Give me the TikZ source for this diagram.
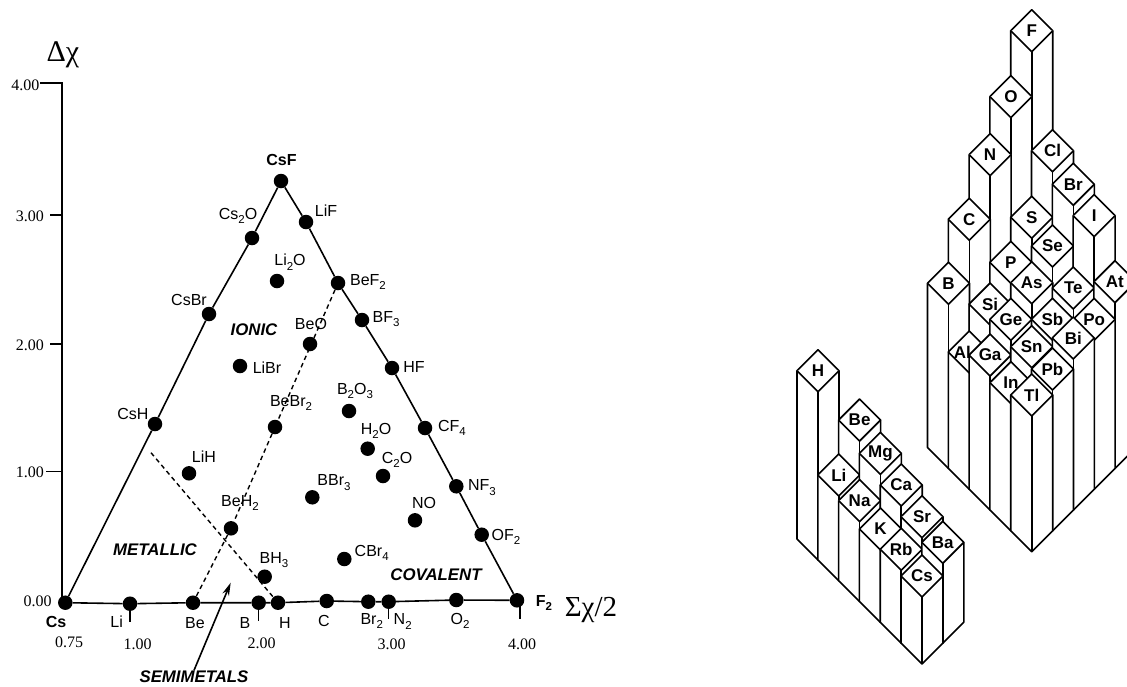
\documentclass[tikz,border=0pt]{standalone}
\usepackage{fontspec}
\setmainfont{Liberation Sans}
\newfontfamily\tnr{Liberation Serif}
\usetikzlibrary{arrows.meta}
\newcommand{\lsub}[1]{\raisebox{-0.28em}{\fontsize{11.5}{11.5}\selectfont #1}}
\tikzset{
  dot/.style={circle,fill=black,draw=none,minimum size=14.5pt,inner sep=0pt},
  frameline/.style={draw=black,line width=1.6pt},
  dashline/.style={draw=black,line width=1.4pt,dash pattern=on 4.5pt off 3.5pt},
  lab/.style={inner sep=0pt,font=\fontsize{16}{16}\selectfont},
  blab/.style={inner sep=0pt,font=\fontsize{16}{16}\selectfont\bfseries},
  region/.style={inner sep=0pt,font=\fontsize{16.8}{17}\selectfont\bfseries\itshape},
  num/.style={inner sep=0pt,font=\fontsize{16}{16}\selectfont\tnr},
  bigtwo/.style={inner sep=0pt,font=\fontsize{30}{30}\selectfont\tnr},
  bigsum/.style={inner sep=0pt,font=\fontsize{29}{29}\selectfont\tnr},
  pillarline/.style={draw=black,fill=white,line width=1.6pt,line join=round},
  celllab/.style={inner sep=0pt,font=\fontsize{17}{17}\selectfont\bfseries},
}
% [label shift]{x of front pillar}{base y of front pillar}{steps right}{steps back}{top y}{label}
\newcommand{\pillar}[7][0]{%
  \pgfmathsetmacro\px{#2+20.8*(#4-#5)}%
  \pgfmathsetmacro\pb{#3-20.8*(#4+#5)}%
  \draw[pillarline] (\px-21,#6) -- (\px-21,\pb-21) -- (\px,\pb) -- (\px+21,\pb-21) -- (\px+21,#6) -- (\px,#6-21) -- cycle;
  \draw[pillarline] (\px-21,#6) -- (\px,#6+21) -- (\px+21,#6);
  \draw[pillarline] (\px,#6+21) -- (\px,\pb);
  \node[celllab] (cell-#7) at (\px+#1,#6) {#7};
}
\newcommand{\rightblock}[5][0]{\pillar[#1]{1031.7}{551.7}{#2}{#3}{#4}{#5}}
\newcommand{\leftblock}[5][0]{\pillar[#1]{922}{664}{#2}{#3}{#4}{#5}}
\begin{document}
\begin{tikzpicture}[x=1pt,y=-1pt]
\clip (0,0) rectangle (1127,686);
\fill[white] (0,0) rectangle (1127,686);

% dots
\node[dot] (CsF) at (281,181) {};
\node[dot] (Cs2O) at (252,238) {};
\node[dot] (LiF) at (306,222) {};
\node[dot] (CsBr) at (209,314) {};
\node[dot] (BeF2) at (338,283) {};
\node[dot] (BF3) at (362,320) {};
\node[dot] (HF) at (392,368) {};
\node[dot] (CF4) at (425,428) {};
\node[dot] (NF3) at (456.3,486.3) {};
\node[dot] (OF2) at (481.7,534.7) {};
\node[dot] (F2) at (517,600.3) {};
\node[dot] (CsH) at (155,424) {};
\node[dot] (Cs) at (65.3,602.7) {};
\node[dot] (Li) at (130,603.7) {};
\node[dot] (Be) at (193,602.7) {};
\node[dot] (B) at (258.7,602.7) {};
\node[dot] (H) at (278,602.7) {};
\node[dot] (C) at (326.7,601) {};
\node[dot] (Br2) at (368.3,601.7) {};
\node[dot] (N2) at (388.7,601.7) {};
\node[dot] (O2) at (456.3,600) {};
\node[dot] (Li2O) at (277,281) {};
\node[dot] (BeO) at (310,344) {};
\node[dot] (LiBr) at (240,366) {};
\node[dot] (BeBr2) at (275,427) {};
\node[dot] (B2O3) at (349,411) {};
\node[dot] (H2O) at (367.7,448.7) {};
\node[dot] (C2O) at (383,476) {};
\node[dot] (NO) at (415,520.3) {};
\node[dot] (BBr3) at (312.3,497.3) {};
\node[dot] (CBr4) at (344.3,559) {};
\node[dot] (LiH) at (189,473.3) {};
\node[dot] (BeH2) at (231,528.3) {};
\node[dot] (BH3) at (264.7,576.7) {};

% frame
\coordinate (axtop) at (62,82.7);
\coordinate (axbot) at (62,602.7);
\coordinate (tick3) at (62,215);
\coordinate (tick2) at (62,344);
\coordinate (tick1) at (62,471.7);
\draw[frameline] (axbot) -- (axtop) -- ++(-22,0);
\draw[frameline,line width=1.2pt] (tick3) -- ++(-12,0);
\draw[frameline,line width=1.2pt] (tick2) -- ++(-12,0);
\draw[frameline,line width=1.2pt] (tick1) -- ++(-16,0);
\draw[frameline] (Cs) -- (CsH) -- (CsBr) -- (Cs2O) -- (CsF);
\draw[frameline] (CsF) -- (LiF) -- (BeF2) -- (BF3) -- (HF) -- (CF4) -- (NF3) -- (OF2) -- (F2);
\draw[frameline] (Cs) -- (Li) -- (Be) -- (B) -- (H) -- (C) -- (Br2) -- (N2) -- (O2) -- (F2);
\draw[frameline,line width=1.2pt] (Li.center) -- ++(0,18);
\draw[frameline,line width=1.2pt] (B.center) -- ++(0,18);
\draw[frameline,line width=1.2pt] (N2.center) -- ++(0,17);
\draw[frameline,line width=1.2pt] (F2.center) ++(3,0) -- ++(0,19);
% dashed borders
\coordinate (metalstart) at (151,452.7);
\draw[dashline] (BeF2) -- (BeBr2) -- (BeH2) -- (Be);
\draw[dashline] (metalstart) -- (H);

% labels
\node[bigtwo] (dchi) at (63,55) {Δχ};
\node[bigsum] (schi) at (591,610) {Σχ/2};
\node[num] (y4) at (25.5,85) {4.00};
\node[num] (y3) at (30,216.7) {3.00};
\node[num] (y2) at (30,345) {2.00};
\node[num] (y1) at (30,472) {1.00};
\node[num] (y0) at (37.5,601) {0.00};
\node[num] (x075) at (69,642) {0.75};
\node[num] (x1) at (137.7,644) {1.00};
\node[num] (x2) at (261.7,643) {2.00};
\node[num] (x3) at (391.7,644.3) {3.00};
\node[num] (x4) at (522,644) {4.00};
\node[blab] (lCsF) at (281.5,160) {CsF};
\node[lab] (lCs2O) at (238,215.7) {Cs\lsub{2}O};
\node[lab] (lLiF) at (326,211) {LiF};
\node[lab] (lCsBr) at (189,300) {CsBr};
\node[lab] (lLi2O) at (290,262) {Li\lsub{2}O};
\node[lab] (lBeF2) at (368,282) {BeF\lsub{2}};
\node[lab] (lBF3) at (386,319) {BF\lsub{3}};
\node[lab] (lBeO) at (311,324) {BeO};
\node[lab] (lLiBr) at (267,368) {LiBr};
\node[lab] (lHF) at (414,367) {HF};
\node[lab] (lB2O3) at (355,391) {B\lsub{2}O\lsub{3}};
\node[lab] (lBeBr2) at (291,403) {BeBr\lsub{2}};
\node[lab] (lH2O) at (376,431) {H\lsub{2}O};
\node[lab] (lCF4) at (452,428) {CF\lsub{4}};
\node[lab] (lC2O) at (397,460) {C\lsub{2}O};
\node[lab] (lBBr3) at (334,482.7) {BBr\lsub{3}};
\node[lab] (lNF3) at (482,487.7) {NF\lsub{3}};
\node[lab] (lNO) at (424,503) {NO};
\node[lab] (lOF2) at (506,536.7) {OF\lsub{2}};
\node[lab] (lCBr4) at (371.7,552.7) {CBr\lsub{4}};
\node[lab] (lCsH) at (133,414) {CsH};
\node[lab] (lLiH) at (204,457) {LiH};
\node[lab] (lBeH2) at (240,503) {BeH\lsub{2}};
\node[lab] (lBH3) at (274,560) {BH\lsub{3}};
\node[blab] (lCs) at (56,622) {Cs};
\node[lab] (lLi) at (116.7,622) {Li};
\node[lab] (lBe) at (195,623) {Be};
\node[lab] (lB) at (245,623) {B};
\node[lab] (lH) at (285,623) {H};
\node[lab] (lC) at (324,621) {C};
\node[lab] (lBr2) at (371.7,621) {Br\lsub{2}};
\node[lab] (lN2) at (402.7,621.7) {N\lsub{2}};
\node[lab] (lO2) at (460,620.7) {O\lsub{2}};
\node[blab] (lF2) at (544,603) {F\lsub{2}};
\node[region] (ionic) at (254,330) {IONIC};
\node[region] (metallic) at (155,550) {METALLIC};
\node[region] (covalent) at (436,575) {COVALENT};
\node[region] (semi) at (194,676.5) {SEMIMETALS};
\coordinate (semitip) at (230.7,582.7);
\draw[frameline,-{Stealth[length=13pt,width=7pt]}] (semi.north) -- (semitip);

% right block, back to front
\rightblock{4}{4}{30.7}{F}
\rightblock{3}{4}{96.7}{O}
\rightblock{4}{3}{150.7}{Cl}
\rightblock{2}{4}{154.7}{N}
\rightblock{3}{3}{217.3}{S}
\rightblock{4}{2}{184.3}{Br}
\rightblock{1}{4}{219.3}{C}
\rightblock{2}{3}{262.3}{P}
\rightblock{3}{2}{246}{Se}
\rightblock{4}{1}{215.7}{I}
\rightblock{0}{4}{283.3}{B}
\rightblock{1}{3}{304}{Si}
\rightblock{2}{2}{282.7}{As}
\rightblock{3}{1}{288}{Te}
\rightblock{4}{0}{281.7}{At}
\rightblock[-7]{0}{3}{352}{Al}
\rightblock{1}{2}{319.3}{Ge}
\rightblock{2}{1}{319.3}{Sb}
\rightblock{3}{0}{319.3}{Po}
\rightblock{0}{2}{355}{Ga}
\rightblock{1}{1}{346.7}{Sn}
\rightblock{2}{0}{338}{Bi}
\rightblock{0}{1}{382.7}{In}
\rightblock{1}{0}{369}{Pb}
\rightblock{0}{0}{395}{Tl}

% left block, back to front
\leftblock{0}{5}{370.7}{H}
\leftblock{1}{4}{420}{Be}
\leftblock{0}{4}{475}{Li}
\leftblock{1}{3}{453.3}{Mg}
\leftblock{0}{3}{500.7}{Na}
\leftblock{1}{2}{485}{Ca}
\leftblock{0}{2}{529}{K}
\leftblock{1}{1}{516.7}{Sr}
\leftblock{0}{1}{549.3}{Rb}
\leftblock{1}{0}{542.3}{Ba}
\leftblock{0}{0}{576}{Cs}
\end{tikzpicture}
\end{document}
